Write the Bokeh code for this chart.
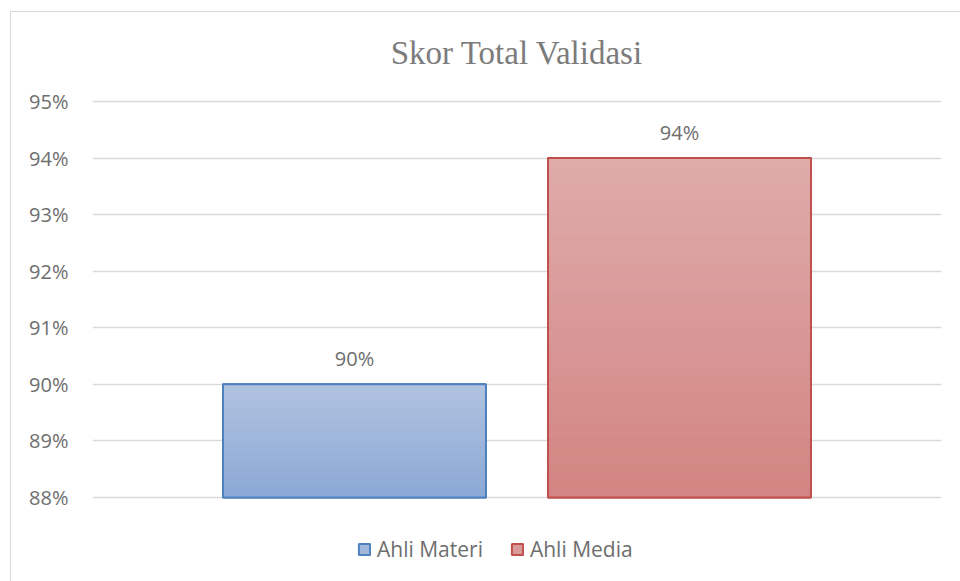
from bokeh.plotting import figure
from bokeh.models import (FactorRange, Range1d, FixedTicker, NumeralTickFormatter,
                          ColumnDataSource, LabelSet, Label, Legend, LegendItem)
from bokeh.core.properties import value
from bokeh.embed import file_html
from bokeh.resources import INLINE

# ---- data ----
chart_title = "Skor Total Validasi"
series = ["Ahli Materi", "Ahli Media"]
scores = [0.90, 0.94]
score_labels = ["90%", "94%"]
y_ticks = [0.88, 0.89, 0.90, 0.91, 0.92, 0.93, 0.94, 0.95]
y_min, y_max = 0.88, 0.95

# ---- styles / geometry ----
fill_top = ["#b1c3e0", "#dfacab"]
fill_bottom = ["#8ca8d5", "#d38483"]
fill_mid = ["#a0b6db", "#d99998"]
line_colors = ["#4f81bd", "#c0504d"]
text_col = "#6e6e6e"
title_col = "#7c7c7c"
grid_col = "#d9d9d9"
sans = "Open Sans"
serif = "Liberation Serif"

W, H = 960, 581
frame_left, frame_right = 92, 941
frame_top, frame_bottom = 20, 575          # frame extends over title/legend area
axis_top_px, axis_bottom_px = 101, 497     # where y_max / y_min sit
px_per_unit = (axis_bottom_px - axis_top_px) / (y_max - y_min)
range_start = y_min - (frame_bottom - axis_bottom_px) / px_per_unit
range_end = y_max + (axis_top_px - frame_top) / px_per_unit


def hex2rgb(h):
    h = h.lstrip("#")
    return tuple(int(h[i:i + 2], 16) for i in (0, 2, 4))


def mix(a, b, t):
    ra, rb = hex2rgb(a), hex2rgb(b)
    return "#%02x%02x%02x" % tuple(int(round(ra[i] + (rb[i] - ra[i]) * t)) for i in range(3))


p = figure(width=W, height=H, output_backend="svg", toolbar_location=None,
           x_range=FactorRange(factors=series, range_padding=0.306,
                               range_padding_units="absolute"),
           y_range=Range1d(range_start, range_end),
           min_border_left=frame_left, min_border_right=W - frame_right,
           min_border_top=frame_top, min_border_bottom=H - frame_bottom)
p.outline_line_color = None
p.background_fill_color = "white"
p.border_fill_color = None
p.styles = {"background": "linear-gradient(#d9d9d9,#d9d9d9) 10px 11px / 1px 100% no-repeat, "
                          "linear-gradient(#d9d9d9,#d9d9d9) 10px 11px / 100% 1px no-repeat, #ffffff"}

# main bars (legend source)
src = ColumnDataSource(dict(x=series, top=scores, lab=score_labels))
bars = []
for i, s in enumerate(series):
    r = p.vbar(x=[s], top=[scores[i]], bottom=y_min, width=0.809,
               fill_color=fill_mid[i], line_color=line_colors[i], line_width=2)
    bars.append(r)

# gradient slices derived from each bar's value
n = 40
for i, s in enumerate(series):
    xs, bots, tops, cols = [], [], [], []
    h = scores[i] - y_min
    for k in range(n):
        xs.append(s)
        bots.append(y_min + h * k / n)
        tops.append(y_min + h * (k + 1) / n)
        cols.append(mix(fill_bottom[i], fill_top[i], (k + 0.5) / n))
    p.vbar(x=xs, bottom=bots, top=tops, width=0.809, fill_color=cols,
           line_color=cols, line_width=0.6)

# outlines on top
for i, s in enumerate(series):
    p.vbar(x=[s], top=[scores[i]], bottom=y_min, width=0.809,
           fill_color=None, line_color=line_colors[i], line_width=2)

# data labels
p.add_layout(LabelSet(x="x", y="top", text="lab", source=src, y_offset=18,
                      text_align="center", text_baseline="alphabetic",
                      text_font=value(sans), text_font_size="20px",
                      text_color=text_col))

# axes
p.xaxis.visible = False
p.xgrid.grid_line_color = None
p.ygrid.grid_line_color = grid_col
p.ygrid.grid_line_width = 1.5
yax = p.yaxis[0]
yax.ticker = FixedTicker(ticks=y_ticks)
yax.formatter = NumeralTickFormatter(format="0%")
yax.axis_line_color = None
yax.major_tick_line_color = None
yax.minor_tick_line_color = None
yax.major_tick_out = 0
yax.major_tick_in = 0
yax.major_label_standoff = 24
yax.major_label_text_font = sans
yax.major_label_text_font_size = "20px"
yax.major_label_text_color = text_col

# title
p.add_layout(Label(x=516.5 - frame_left, y=frame_bottom - 52,
                   x_units="screen", y_units="screen",
                   text=chart_title, text_align="center", text_baseline="middle",
                   text_font=serif, text_font_size="33px", text_color=title_col))

# legend
legend = Legend(items=[LegendItem(label=series[i], renderers=[bars[i]]) for i in range(2)],
                orientation="horizontal", location=(357 - frame_left, 12),
                glyph_width=14, glyph_height=14, label_standoff=6, spacing=27,
                padding=0, margin=0, border_line_color=None,
                background_fill_alpha=0,
                label_text_font=sans, label_text_font_size="21px",
                label_text_color=text_col)
p.add_layout(legend, "center")

open("out.html", "w").write(file_html(p, INLINE))
